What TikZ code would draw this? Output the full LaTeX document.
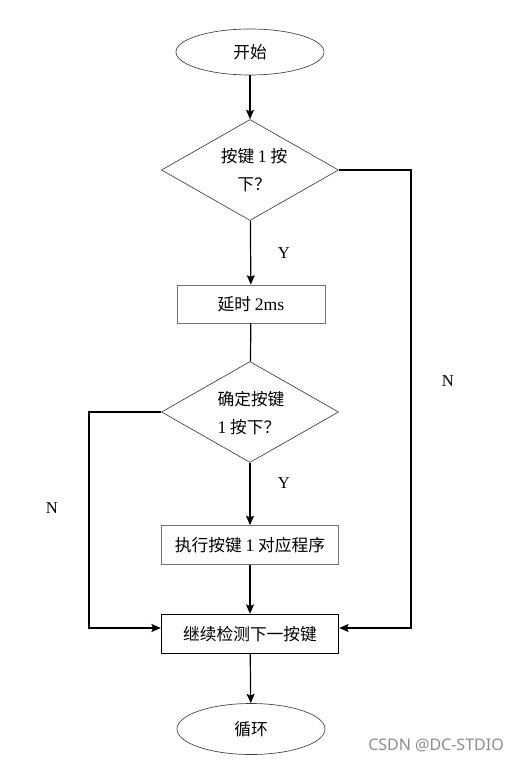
\documentclass[tikz,border=0pt]{standalone}
\usepackage{fontspec}
\setmainfont{Liberation Serif}
\newfontfamily\cjk{Noto Sans CJK SC}[Scale=0.95]
\newfontfamily\wmfont{Noto Sans}
\usetikzlibrary{shapes.geometric,arrows.meta}
\begin{document}
\begin{tikzpicture}[x=0.75pt,y=-0.75pt,
  every node/.style={font=\cjk\fontsize{13.2}{18}\selectfont},
  term/.style={ellipse,draw=black!75,line width=0.5pt,minimum width=0.75*148pt,minimum height=0.75*46pt,inner sep=0pt},
  decide/.style={diamond,draw=black!75,line width=0.5pt,minimum width=0.75*177pt,minimum height=0.75*101pt,aspect=1.75,inner sep=0pt,align=center},
  proc/.style={rectangle,draw=black!55,line width=0.6pt,minimum width=0.75*148pt,minimum height=0.75*38pt,inner sep=0pt},
  proc2/.style={rectangle,draw=black!55,line width=0.6pt,minimum width=0.75*177pt,minimum height=0.75*39pt,inner sep=0pt},
  procb/.style={rectangle,draw=black,line width=1.1pt,minimum width=0.75*177pt,minimum height=0.75*39pt,inner sep=0pt},
  lbl/.style={font=\fontsize{12.5}{14}\selectfont},
  flow/.style={line width=0.9pt,-{Stealth[length=7pt,width=6pt,inset=1.2pt]}},
  plain/.style={line width=0.9pt}]
\useasboundingbox (0,0) rectangle (519,762);
\node[term] (start) at (250,52) {开始};
\node[decide] (d1) at (250,170) {};
\node (t1) at (254,172) {\begin{tabular}{@{}c@{}}按键 \rmfamily 1\cjk{} 按\\[3pt]下？\end{tabular}};
\node[proc] (delay) at (251,304) {延时 \rmfamily 2ms};
\node[decide] (d2) at (250,412) {};
\node (t2) at (251,415) {\begin{tabular}{@{}l@{}}确定按键\\[3pt]\rmfamily 1\cjk{} 按下？\end{tabular}};
\node[proc2] (exec) at (250,545) {执行按键 \rmfamily 1\cjk{} 对应程序};
\node[procb] (cont) at (250,634) {继续检测下一按键};
\node[term,minimum height=0.75*51pt] (end) at (251,729) {循环};
\coordinate (rc) at (411,628);
\coordinate (lc) at (89,628);
\draw[flow] (start) -- (d1);
\draw[flow] (d1) -- (delay);
\draw[plain] (delay) -- (d2);
\draw[flow] (d2) -- (exec);
\draw[flow] (exec) -- (cont);
\draw[flow] (cont) -- (end);
\draw[flow] (d1.east) -| (rc) -- (rc -| cont.east);
\draw[flow] (d2.west) -| (lc) -- (lc -| cont.west);
\node[lbl] (y1) at (284,253) {Y};
\node[lbl] (y2) at (284,483) {Y};
\node[lbl] (n1) at (448,381) {N};
\node[lbl] (n2) at (52,508) {N};
\node[font=\wmfont\fontsize{12}{14}\selectfont,text=black!45] (wm) at (436,745) {CSDN @DC-STDIO};
\end{tikzpicture}
\end{document}
